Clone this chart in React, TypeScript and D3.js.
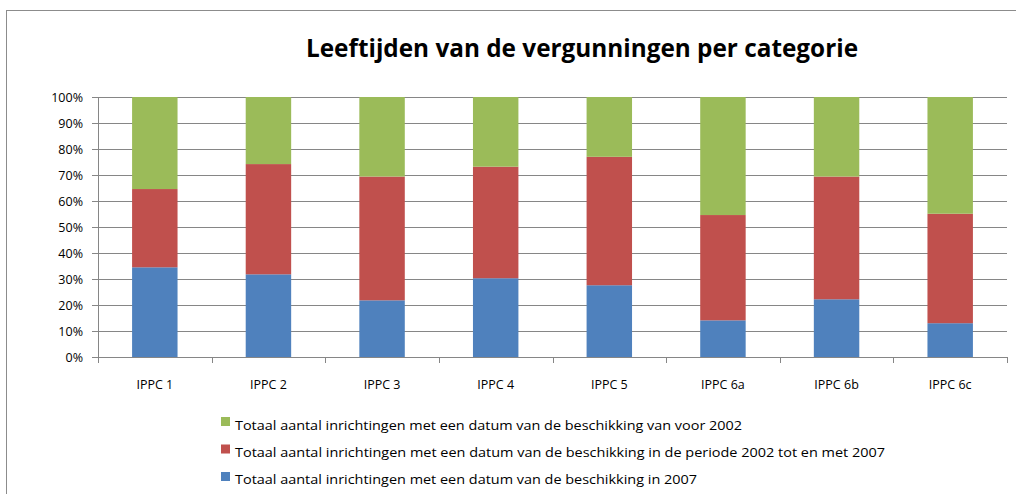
import React from "react";
import * as d3 from "d3";

const categories = ["IPPC 1", "IPPC 2", "IPPC 3", "IPPC 4", "IPPC 5", "IPPC 6a", "IPPC 6b", "IPPC 6c"];
// shares (fractions of 1) per category
const in2007 = [0.345, 0.318, 0.218, 0.303, 0.276, 0.141, 0.222, 0.130];
const period2002to2007 = [0.301, 0.424, 0.476, 0.429, 0.494, 0.405, 0.472, 0.421];
const before2002 = [0.354, 0.258, 0.306, 0.268, 0.230, 0.454, 0.306, 0.449];
const yTicks = [0, 0.1, 0.2, 0.3, 0.4, 0.5, 0.6, 0.7, 0.8, 0.9, 1.0];

const seriesNames = [
  "Totaal aantal inrichtingen met een datum van de beschikking in 2007",
  "Totaal aantal inrichtingen met een datum van de beschikking in de periode 2002 tot en met 2007",
  "Totaal aantal inrichtingen met een datum van de beschikking van voor 2002",
];
const seriesColors = ["#4F81BD", "#C0504D", "#9BBB59"];
const legendOrder = [2, 1, 0];
const legendWidths = [507, 650, 462];

const FONT = "'Open Sans', 'Noto Sans', sans-serif";

export default function App() {
  const W = 1016, H = 494;
  const left = 98, right = 1007, top = 97, bottom = 357;
  const x = d3.scaleBand<string>().domain(categories).range([left, right]).paddingInner(0.6).paddingOuter(0.3);
  const y = d3.scaleLinear().domain([0, 1]).range([bottom, top]);

  const rows = categories.map((c, i) => ({ cat: c, s0: in2007[i], s1: period2002to2007[i], s2: before2002[i] }));
  const stack = d3.stack<any>().keys(["s0", "s1", "s2"]).offset(d3.stackOffsetExpand);
  const stacked = stack(rows);

  const grid = "#868686";
  const step = x.step();

  return (
    <svg width={W} height={H} style={{ position: "absolute", left: 0, top: 0, background: "#fff" }}>
      <rect x={6.5} y={10.5} width={1030} height={520} fill="#fff" stroke="#8c8c8c" strokeWidth={1} />
      <text x={582} y={56.5} textAnchor="middle" fontFamily={FONT} fontWeight="bold" fontSize={25}
        textLength={552} lengthAdjust="spacingAndGlyphs" fill="#000">
        Leeftijden van de vergunningen per categorie
      </text>

      {yTicks.map((t) => (
        <g key={t}>
          <line x1={left - 6} x2={right} y1={Math.round(y(t)) + 0.5} y2={Math.round(y(t)) + 0.5} stroke={grid} strokeWidth={1} />
          <text x={83} y={y(t) + 4.5} textAnchor="end" fontFamily={FONT} fontSize={12.5} fill="#000">
            {d3.format(".0%")(t)}
          </text>
        </g>
      ))}

      {stacked.map((layer, si) => (
        <g key={si} fill={seriesColors[si]}>
          {layer.map((d, i) => (
            <rect key={i} x={x(categories[i])} width={x.bandwidth()} y={y(d[1])} height={y(d[0]) - y(d[1])} />
          ))}
        </g>
      ))}

      <line x1={left + 0.5} x2={left + 0.5} y1={top} y2={bottom + 0.5} stroke={grid} />
      <line x1={left} x2={right} y1={bottom + 0.5} y2={bottom + 0.5} stroke={grid} />
      {d3.range(categories.length + 1).map((i) => {
        const xx = Math.round(left + i * step) + 0.5;
        return <line key={i} x1={xx} x2={xx} y1={bottom} y2={bottom + 6} stroke={grid} />;
      })}
      {categories.map((c) => (
        <text key={c} x={(x(c) as number) + x.bandwidth() / 2} y={389} textAnchor="middle" fontFamily={FONT} fontSize={12.5} fill="#000">
          {c}
        </text>
      ))}

      {legendOrder.map((si, k) => (
        <g key={si}>
          <rect x={221} y={417 + k * 27.5} width={9} height={9} fill={seriesColors[si]} />
          <text x={235} y={430 + k * 27} fontFamily={FONT} fontSize={13.5} fill="#000"
            textLength={legendWidths[si === 2 ? 0 : si === 1 ? 1 : 2]} lengthAdjust="spacingAndGlyphs">
            {seriesNames[si]}
          </text>
        </g>
      ))}
    </svg>
  );
}
